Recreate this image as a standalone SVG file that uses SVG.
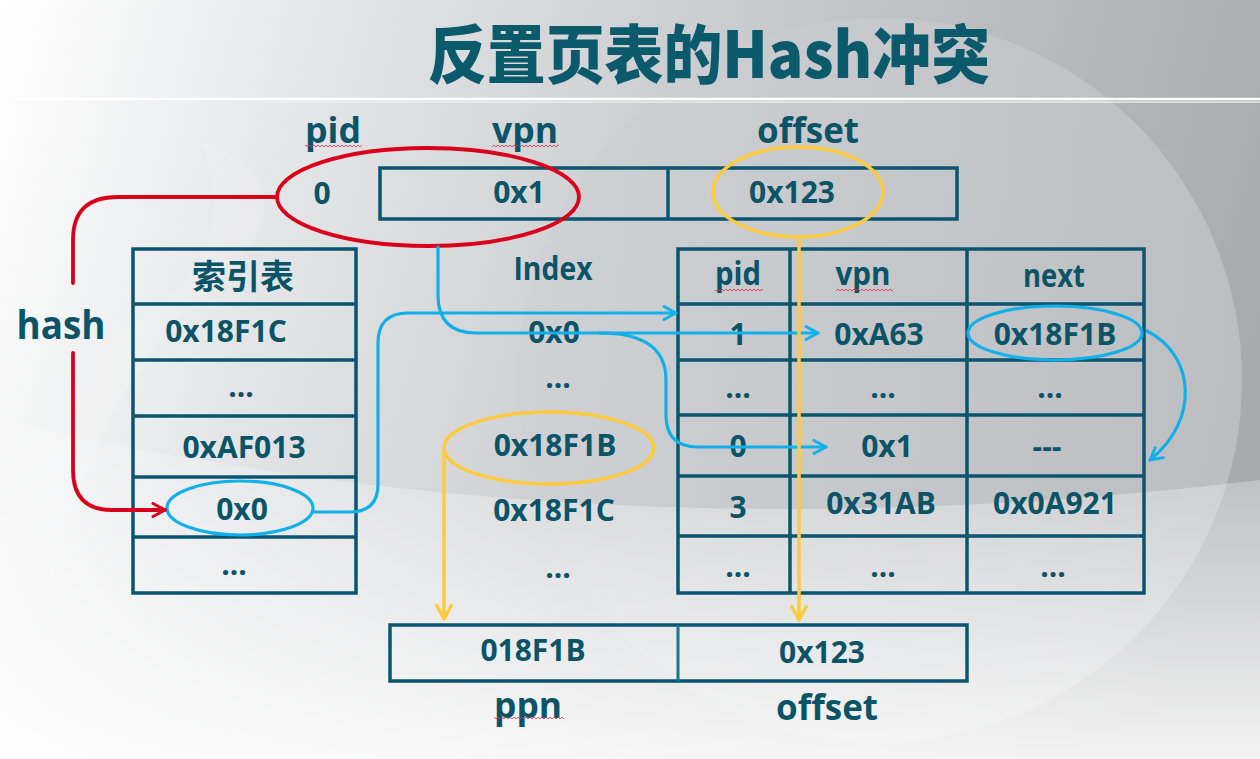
<svg xmlns="http://www.w3.org/2000/svg" width="1260" height="759" viewBox="0 0 1260 759">
<style>
.t{font-family:'Open Sans','Noto Sans CJK SC',sans-serif;font-weight:700;fill:#0b5468;text-anchor:middle}
.v{font-size:30px}
.h{font-size:32px}
.cj{font-family:'Noto Sans CJK SC','Open Sans',sans-serif;font-weight:700;fill:#0b5468;text-anchor:middle}
.box{fill:none;stroke:#0a5470;stroke-width:3.5}
.ln{stroke:#0a5470;stroke-width:3.5}
.blue{fill:none;stroke:#12b0e8;stroke-width:3.2;stroke-linecap:round;stroke-linejoin:round}
.red{fill:none;stroke:#d9001b;stroke-width:3.8;stroke-linecap:round}
.yel{fill:none;stroke:#fdcb3e;stroke-width:3.5;stroke-linecap:round}
</style>
<defs>
<linearGradient id="bg" x1="0" y1="0" x2="1260" y2="320" gradientUnits="userSpaceOnUse">
<stop offset="0" stop-color="#ffffff"/>
<stop offset="0.25" stop-color="#e4e5e7"/>
<stop offset="0.6" stop-color="#c6c7ca"/>
<stop offset="1" stop-color="#a9aaad"/>
</linearGradient>
<linearGradient id="disc" x1="520" y1="0" x2="1240" y2="0" gradientUnits="userSpaceOnUse">
<stop offset="0" stop-color="#cfd0d3"/>
<stop offset="1" stop-color="#c3c4c7"/>
</linearGradient>
<linearGradient id="low" x1="0" y1="420" x2="0" y2="759" gradientUnits="userSpaceOnUse">
<stop offset="0" stop-color="#ffffff" stop-opacity="0.15"/>
<stop offset="1" stop-color="#ffffff" stop-opacity="0.85"/>
</linearGradient>
<pattern id="wv" width="4" height="4" patternUnits="userSpaceOnUse">
<path d="M0,3 L2,1 L4,3" fill="none" stroke="#e0304a" stroke-width="0.8"/>
</pattern>
<marker id="ab" viewBox="0 0 16 16" refX="14" refY="8" markerWidth="16" markerHeight="16" markerUnits="userSpaceOnUse" orient="auto">
<path d="M2,1.5 L14,8 L2,14.5" fill="none" stroke="#12b0e8" stroke-width="2.8" stroke-linecap="round" stroke-linejoin="round"/>
</marker>
<marker id="ar" viewBox="0 0 16 16" refX="14" refY="8" markerWidth="16" markerHeight="16" markerUnits="userSpaceOnUse" orient="auto">
<path d="M2,1.5 L14,8 L2,14.5" fill="none" stroke="#d9001b" stroke-width="3" stroke-linecap="round" stroke-linejoin="round"/>
</marker>
<marker id="ay" viewBox="0 0 16 16" refX="14" refY="8" markerWidth="18" markerHeight="18" markerUnits="userSpaceOnUse" orient="auto">
<path d="M2,1.5 L14,8 L2,14.5" fill="none" stroke="#fdcb3e" stroke-width="3" stroke-linecap="round" stroke-linejoin="round"/>
</marker>
</defs>

<g id="background">
<rect x="0" y="0" width="1260" height="759" fill="url(#bg)"/>
<circle cx="880" cy="380" r="362" fill="url(#disc)" opacity="0.75"/>
<path d="M0,420 Q600,560 1260,480 V759 H0 Z" fill="url(#low)"/>
<path d="M20,759 Q60,420 200,300 Q330,190 200,140 Q250,260 120,330 Q30,400 0,560 V759 Z" fill="#ffffff" opacity="0.12"/>
<line x1="0" y1="99" x2="1260" y2="99" stroke="#ffffff" stroke-width="2.5"/>
<line x1="258" y1="102" x2="1260" y2="102" stroke="#eef0ee" stroke-width="2" opacity="0.7"/>
</g>

<text id="title" class="cj" x="428" y="78" font-size="64" font-weight="900" textLength="562" lengthAdjust="spacingAndGlyphs" style="text-anchor:start;fill:#0b5a6c;font-weight:900">反置页表的Hash冲突</text>

<g id="va-labels">
<text class="t" x="333" y="143" font-size="36" textLength="56" lengthAdjust="spacingAndGlyphs">pid</text>
<text class="t" x="525" y="143" font-size="36" textLength="66" lengthAdjust="spacingAndGlyphs">vpn</text>
<text class="t" x="808" y="143" font-size="36" textLength="102" lengthAdjust="spacingAndGlyphs">offset</text>
<rect x="305" y="144" width="57" height="4" fill="url(#wv)"/>
<rect x="492" y="144" width="67" height="4" fill="url(#wv)"/>
</g>

<g id="virtual-address">
<text class="t v" x="322" y="204">0</text>
<rect class="box" x="380" y="168" width="577" height="51"/>
<line class="ln" x1="668" y1="168" x2="668" y2="219"/>
<text class="t v" x="519" y="203">0x1</text>
<text class="t v" x="792" y="203">0x123</text>
</g>

<g id="hash-label">
<text class="t" x="61" y="339" font-size="40" textLength="89" lengthAdjust="spacingAndGlyphs">hash</text>
</g>

<g id="index-table">
<rect class="box" x="133" y="249" width="223" height="344"/>
<line class="ln" x1="133" y1="304" x2="356" y2="304"/>
<line class="ln" x1="133" y1="360" x2="356" y2="360"/>
<line class="ln" x1="133" y1="416" x2="356" y2="416"/>
<line class="ln" x1="133" y1="477" x2="356" y2="477"/>
<line class="ln" x1="133" y1="537" x2="356" y2="537"/>
<text class="cj" x="243" y="289" font-size="34">索引表</text>
<text class="t v" x="226" y="342">0x18F1C</text>
<text class="t v" x="241" y="397">...</text>
<text class="t v" x="244" y="458">0xAF013</text>
<text class="t v" x="242" y="520">0x0</text>
<text class="t v" x="234" y="575">...</text>
</g>

<g id="index-column">
<text class="t" x="553" y="280" font-size="32" textLength="79" lengthAdjust="spacingAndGlyphs">Index</text>
<text class="t v" x="554" y="343">0x0</text>
<text class="t v" x="558" y="388">...</text>
<text class="t v" x="555" y="456">0x18F1B</text>
<text class="t v" x="554" y="521">0x18F1C</text>
<text class="t v" x="558" y="578">...</text>
</g>

<g id="page-table">
<rect class="box" x="678" y="249" width="466" height="344"/>
<line class="ln" x1="790" y1="249" x2="790" y2="593"/>
<line class="ln" x1="967" y1="249" x2="967" y2="593"/>
<line class="ln" x1="678" y1="304" x2="1144" y2="304"/>
<line class="ln" x1="678" y1="360" x2="1144" y2="360"/>
<line class="ln" x1="678" y1="415" x2="1144" y2="415"/>
<line class="ln" x1="678" y1="476" x2="1144" y2="476"/>
<line class="ln" x1="678" y1="536" x2="1144" y2="536"/>
<text class="t h" x="738" y="285" textLength="46" lengthAdjust="spacingAndGlyphs">pid</text>
<text class="t h" x="863" y="285" textLength="55" lengthAdjust="spacingAndGlyphs">vpn</text>
<text class="t h" x="1054" y="287" textLength="62" lengthAdjust="spacingAndGlyphs">next</text>
<rect x="715" y="287" width="48" height="4" fill="url(#wv)"/>
<rect x="836" y="287" width="57" height="4" fill="url(#wv)"/>
<text class="t v" x="738" y="345">1</text>
<text class="t v" x="879" y="345">0xA63</text>
<text class="t v" x="1055" y="345">0x18F1B</text>
<text class="t v" x="738" y="398">...</text>
<text class="t v" x="883" y="398">...</text>
<text class="t v" x="1050" y="398">...</text>
<text class="t v" x="738" y="457">0</text>
<text class="t v" x="887" y="457">0x1</text>
<text class="t v" x="1047" y="457">---</text>
<text class="t v" x="738" y="518">3</text>
<text class="t v" x="881" y="514">0x31AB</text>
<text class="t v" x="1055" y="514">0x0A921</text>
<text class="t v" x="738" y="577">...</text>
<text class="t v" x="883" y="577">...</text>
<text class="t v" x="1053" y="577">...</text>
</g>

<g id="physical-address">
<rect class="box" x="390" y="625" width="577" height="56"/>
<line x1="678" y1="625" x2="678" y2="681" stroke="#137a86" stroke-width="3"/>
<text class="t v" x="533" y="661">018F1B</text>
<text class="t v" x="822" y="663">0x123</text>
<text class="t" x="528" y="718" font-size="36" textLength="68" lengthAdjust="spacingAndGlyphs">ppn</text>
<text class="t" x="827" y="720" font-size="36" textLength="102" lengthAdjust="spacingAndGlyphs">offset</text>
<rect x="494" y="716" width="70" height="4" fill="url(#wv)"/>
</g>

<g id="connectors">
<ellipse class="red" cx="428" cy="197" rx="151" ry="49"/>
<ellipse class="yel" cx="798" cy="192" rx="85" ry="45"/>
<ellipse class="yel" cx="549" cy="448" rx="105" ry="36"/>
<ellipse class="blue" cx="240" cy="508" rx="73" ry="27"/>
<ellipse class="blue" cx="1055" cy="333" rx="87" ry="27"/>
<path class="red" d="M277,197 H118 Q73,197 73,240 V283"/>
<path class="red" d="M73,353 V470 Q73,510 112,510 H165" marker-end="url(#ar)"/>
<path class="blue" d="M313,512 H350 Q378,512 378,484 V343 Q378,313 408,313 H676" marker-end="url(#ab)"/>
<path class="blue" d="M438,247 V295 Q438,333 476,333 H818" marker-end="url(#ab)"/>
<path class="blue" d="M600,333 Q666,333 666,380 V415 Q666,447 698,447 H826" marker-end="url(#ab)"/>
<path class="blue" d="M1147,331 C1195,355 1200,420 1150,460" marker-end="url(#ab)"/>
<path class="yel" d="M444,450 V619" marker-end="url(#ay)"/>
<path class="yel" d="M799,237 V620" marker-end="url(#ay)"/>
</g>
</svg>
